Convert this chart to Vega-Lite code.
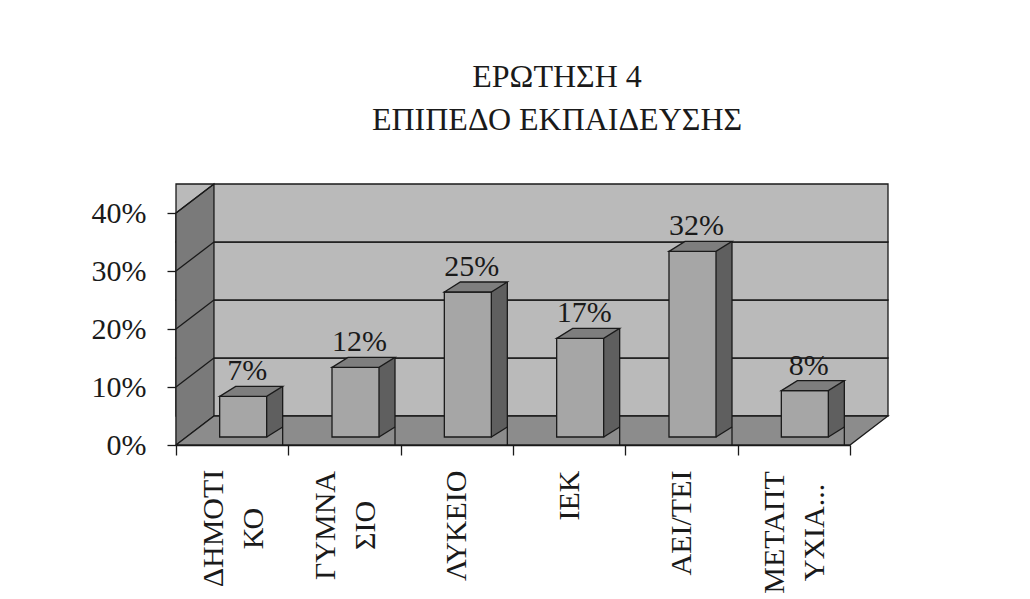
{
  "$schema": "https://vega.github.io/schema/vega-lite/v6.json",
  "width": 674,
  "height": 232,
  "autosize": {"type": "none"},
  "padding": {"left": 176, "top": 213, "right": 180, "bottom": 154},
  "background": "white",
  "config": {"view": {"stroke": null}, "font": "Liberation Serif"},
  "title": {
    "text": ["ΕΡΩΤΗΣΗ 4", "ΕΠΙΠΕΔΟ ΕΚΠΑΙΔΕΥΣΗΣ"],
    "font": "Liberation Serif",
    "fontSize": 32,
    "fontWeight": "normal",
    "color": "#1a1a1a",
    "lineHeight": 43,
    "anchor": "middle",
    "dx": 44,
    "offset": 44
  },
  "resolve": {"axis": {"x": "independent", "y": "independent"}},
  "datasets": {
    "edu": [
      {"cat": "ΔΗΜΟΤΙΚΟ", "value": 0.07},
      {"cat": "ΓΥΜΝΑΣΙΟ", "value": 0.12},
      {"cat": "ΛΥΚΕΙΟ", "value": 0.25},
      {"cat": "ΙΕΚ", "value": 0.17},
      {"cat": "ΑΕΙ/ΤΕΙ", "value": 0.32},
      {"cat": "ΜΕΤΑΠΤΥΧΙΑΚΟ", "value": 0.08}
    ],
    "bands": [
      {"lo": 0, "hi": 0.1},
      {"lo": 0.1, "hi": 0.2},
      {"lo": 0.2, "hi": 0.3},
      {"lo": 0.3, "hi": 0.4}
    ],
    "grid": [{"v": 0.1}, {"v": 0.2}, {"v": 0.3}, {"v": 0.4}]
  },
  "layer": [
    {
      "data": {"name": "bands"},
      "mark": {"type": "rect", "fill": "#bababa", "stroke": "#1a1a1a", "strokeWidth": 1.3, "xOffset": 38, "yOffset": -29, "y2Offset": -29},
      "encoding": {
        "y": {"field": "lo", "type": "quantitative", "scale": {"domain": [0, 0.4]}, "axis": null},
        "y2": {"field": "hi"}
      }
    },
    {
      "data": {"values": [{}]},
      "mark": {"type": "point", "shape": "M-56.2,0L-18.2,-29L-18.2,-261L-56.2,-232Z", "size": 4, "filled": true, "fill": "#7a7a7a", "stroke": "#1a1a1a", "strokeWidth": 1.3, "opacity": 1},
      "encoding": {
        "x": {"datum": "ΔΗΜΟΤΙΚΟ", "type": "nominal", "scale": {"domain": ["ΔΗΜΟΤΙΚΟ", "ΓΥΜΝΑΣΙΟ", "ΛΥΚΕΙΟ", "ΙΕΚ", "ΑΕΙ/ΤΕΙ", "ΜΕΤΑΠΤΥΧΙΑΚΟ"], "paddingInner": 0, "paddingOuter": 0}, "axis": null},
        "y": {"datum": 0, "type": "quantitative", "scale": {"domain": [0, 0.4]}, "axis": null}
      }
    },
    {
      "data": {"name": "grid"},
      "mark": {"type": "point", "shape": "M-56.2,0L-18.2,-29", "size": 4, "filled": false, "stroke": "#1a1a1a", "strokeWidth": 1.3, "opacity": 1},
      "encoding": {
        "x": {"datum": "ΔΗΜΟΤΙΚΟ", "type": "nominal", "axis": null},
        "y": {"field": "v", "type": "quantitative", "scale": {"domain": [0, 0.4]}, "axis": null}
      }
    },
    {
      "data": {"values": [{}]},
      "mark": {"type": "point", "shape": "M-56.2,0L617.8,0L655.8,-29L-18.2,-29Z", "size": 4, "filled": true, "fill": "#8c8c8c", "stroke": "#1a1a1a", "strokeWidth": 1.3, "opacity": 1},
      "encoding": {
        "x": {"datum": "ΔΗΜΟΤΙΚΟ", "type": "nominal", "axis": null},
        "y": {"datum": 0, "type": "quantitative", "scale": {"domain": [0, 0.4]}, "axis": null}
      }
    },
    {
      "data": {"name": "edu"},
      "mark": {"type": "bar", "width": 16, "fill": "#5f5f5f", "strokeWidth": 0, "xOffset": 42.5, "yOffset": -18},
      "encoding": {
        "x": {"field": "cat", "type": "nominal", "sort": null, "axis": null},
        "y": {"field": "value", "type": "quantitative", "scale": {"domain": [0, 0.4]}, "axis": null}
      }
    },
    {
      "data": {"name": "edu"},
      "mark": {"type": "point", "shape": "M34,-7.5L51,-18.3L34,-18.3Z", "size": 4, "filled": true, "fill": "#5f5f5f", "strokeWidth": 0, "opacity": 1},
      "encoding": {
        "x": {"field": "cat", "type": "nominal", "sort": null, "axis": null},
        "y": {"datum": 0, "type": "quantitative", "scale": {"domain": [0, 0.4]}, "axis": null}
      }
    },
    {
      "data": {"name": "edu"},
      "mark": {"type": "rule", "stroke": "#1a1a1a", "strokeWidth": 1.3, "xOffset": 50.5, "yOffset": -18},
      "encoding": {
        "x": {"field": "cat", "type": "nominal", "sort": null, "axis": null},
        "y": {"field": "value", "type": "quantitative", "scale": {"domain": [0, 0.4]}, "axis": null},
        "y2": {"datum": 0}
      }
    },
    {
      "data": {"name": "edu"},
      "mark": {"type": "point", "shape": "M34.5,-8L50.5,-18", "size": 4, "filled": false, "stroke": "#1a1a1a", "strokeWidth": 1.3, "opacity": 1},
      "encoding": {
        "x": {"field": "cat", "type": "nominal", "sort": null, "axis": null},
        "y": {"datum": 0, "type": "quantitative", "scale": {"domain": [0, 0.4]}, "axis": null}
      }
    },
    {
      "data": {"name": "edu"},
      "mark": {"type": "bar", "width": 47, "fill": "#a6a6a6", "stroke": "#1a1a1a", "strokeWidth": 1.3, "xOffset": 11, "yOffset": -8},
      "encoding": {
        "x": {
          "field": "cat", "type": "nominal", "sort": null, "title": null,
          "axis": {
            "tickBand": "extent",
            "labelAngle": -90,
            "labelAlign": {"condition": {"test": "datum.value == 'ΔΗΜΟΤΙΚΟ' || datum.value == 'ΓΥΜΝΑΣΙΟ' || datum.value == 'ΜΕΤΑΠΤΥΧΙΑΚΟ'", "value": "center"}, "value": "right"},
            "labelBaseline": "middle",
            "labelFont": "Liberation Serif",
            "labelFontSize": 30,
            "labelColor": "#1a1a1a",
            "labelLineHeight": 40,
            "labelPadding": {"condition": [
              {"test": "datum.value == 'ΔΗΜΟΤΙΚΟ'", "value": 73},
              {"test": "datum.value == 'ΓΥΜΝΑΣΙΟ'", "value": 70},
              {"test": "datum.value == 'ΜΕΤΑΠΤΥΧΙΑΚΟ'", "value": 77}
            ], "value": 15},
            "labelOffset": {"condition": {"test": "datum.value == 'ΔΗΜΟΤΙΚΟ' || datum.value == 'ΓΥΜΝΑΣΙΟ' || datum.value == 'ΜΕΤΑΠΤΥΧΙΑΚΟ'", "value": -19}, "value": 0},
            "labelExpr": "datum.label == 'ΔΗΜΟΤΙΚΟ' ? ['ΔΗΜΟΤΙ', 'ΚΟ'] : datum.label == 'ΓΥΜΝΑΣΙΟ' ? ['ΓΥΜΝΑ', 'ΣΙΟ'] : datum.label == 'ΜΕΤΑΠΤΥΧΙΑΚΟ' ? ['ΜΕΤΑΠΤ', 'ΥΧΙΑ...'] : datum.label",
            "tickSize": 10,
            "tickColor": "#1a1a1a",
            "tickWidth": 1.3,
            "domainColor": "#1a1a1a",
            "domainWidth": 1.3,
            "grid": false
          }
        },
        "y": {
          "field": "value", "type": "quantitative", "title": null,
          "scale": {"domain": [0, 0.4]},
          "axis": {
            "values": [0, 0.1, 0.2, 0.3, 0.4],
            "format": ".0%",
            "labelFont": "Liberation Serif",
            "labelFontSize": 30,
            "labelColor": "#1a1a1a",
            "labelPadding": 21,
            "tickSize": 9,
            "tickColor": "#1a1a1a",
            "tickWidth": 1.3,
            "domainColor": "#1a1a1a",
            "domainWidth": 1.3,
            "grid": false
          }
        }
      }
    },
    {
      "data": {"name": "edu"},
      "mark": {"type": "point", "shape": "M-12.5,-8L34.5,-8L50.5,-18L3.5,-18Z", "size": 4, "filled": true, "fill": "#7e7e7e", "stroke": "#1a1a1a", "strokeWidth": 1.3, "opacity": 1},
      "encoding": {
        "x": {"field": "cat", "type": "nominal", "sort": null, "axis": null},
        "y": {"field": "value", "type": "quantitative", "scale": {"domain": [0, 0.4]}, "axis": null}
      }
    },
    {
      "data": {"name": "edu"},
      "mark": {"type": "text", "font": "Liberation Serif", "fontSize": 30, "color": "#1a1a1a", "baseline": "alphabetic", "xOffset": 15, "yOffset": -24},
      "encoding": {
        "x": {"field": "cat", "type": "nominal", "sort": null, "axis": null},
        "y": {"field": "value", "type": "quantitative", "scale": {"domain": [0, 0.4]}, "axis": null},
        "text": {"field": "value", "type": "quantitative", "format": ".0%"}
      }
    }
  ]
}
